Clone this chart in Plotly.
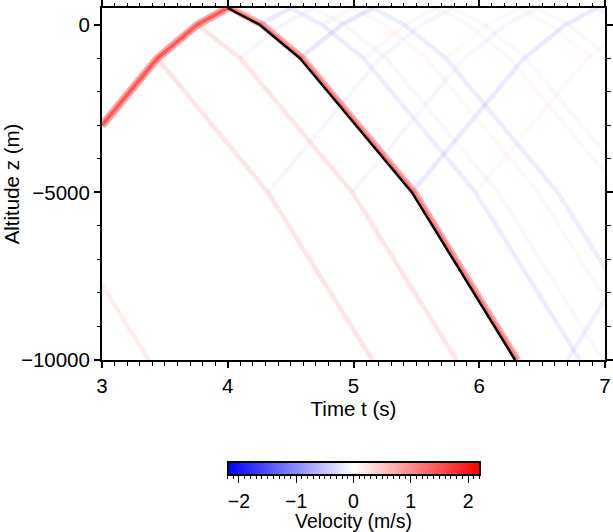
import plotly.graph_objects as go

FONT = "Liberation Sans"

# ---- ray path (black line) ----
ray_t = [4.00, 4.254, 4.575, 5.465, 6.285]
ray_z = [500, 0, -1000, -5000, -10000]

# ---- main pulse, upgoing branch ----
up_t = [3.00, 3.44, 3.758, 4.00]
up_z = [-3000, -1000, 0, 500]

# ---- main pulse band following the ray (slightly behind it) ----
band_t = [4.02, 4.274, 4.595, 5.485, 6.305]
band_z = [500, 0, -1000, -5000, -10000]

# ---- first order reflections (t in s, z in m, amplitude in m/s) ----
A_t, A_z = [3.44, 4.32, 5.15], [-1000, -5000, -10000]
B_t, B_z = [3.758, 4.10, 4.99, 5.82], [0, -1000, -5000, -10000]
C_t, C_z = [2.55, 3.37], [-5000, -10000]
Fu_t, Fu_z = [4.254, 4.50], [0, 500]
Fd_t, Fd_z = [4.50, 4.75, 5.08, 5.97, 6.80], [500, 0, -1000, -5000, -10000]
Eu_t, Eu_z = [4.575, 4.905, 5.155], [-1000, 0, 500]
Ed_t, Ed_z = [5.155, 5.405, 5.735, 6.625, 7.455], [500, 0, -1000, -5000, -10000]
Du_t, Du_z = [5.465, 6.355, 6.685, 6.935], [-5000, -1000, 0, 500]
Dd_t, Dd_z = [6.935, 7.185], [500, 0]
Gu_t, Gu_z = [4.10, 4.43, 4.68], [-1000, 0, 500]
Gd_t, Gd_z = [4.68, 4.93, 5.26, 6.15, 6.98], [500, 0, -1000, -5000, -10000]
Hu_t, Hu_z = [4.32, 5.21, 5.54, 5.79], [-5000, -1000, 0, 500]
Hd_t, Hd_z = [5.79, 6.04, 6.37, 7.26], [500, 0, -1000, -5000]
Iu_t, Iu_z = [4.99, 5.88, 6.21, 6.46], [-5000, -1000, 0, 500]
Id_t, Id_z = [6.46, 6.71, 7.04], [500, 0, -1000]
J_t, J_z = [6.70, 7.00], [-10000, -8200]
# ---- second order reflections ----
R1u_t, R1u_z = [4.75, 5.00], [0, 500]
R1d_t, R1d_z = [5.00, 5.25, 5.58, 6.47, 7.30], [500, 0, -1000, -5000, -10000]
R2u_t, R2u_z = [5.08, 5.41, 5.66], [-1000, 0, 500]
R2d_t, R2d_z = [5.66, 5.91, 6.24, 7.13], [500, 0, -1000, -5000]
R3u_t, R3u_z = [5.97, 6.86, 7.19], [-5000, -1000, 0]
R4u_t, R4u_z = [5.735, 6.065, 6.315], [-1000, 0, 500]
R4d_t, R4d_z = [6.315, 6.565, 6.895], [500, 0, -1000]

fronts = [
    (A_t, A_z, 0.22), (B_t, B_z, 0.22), (C_t, C_z, 0.15),
    (Fu_t, Fu_z, -0.20), (Fd_t, Fd_z, -0.15),
    (Eu_t, Eu_z, -0.20), (Ed_t, Ed_z, -0.15),
    (Du_t, Du_z, -0.17), (Dd_t, Dd_z, -0.12),
    (Gu_t, Gu_z, -0.08), (Gd_t, Gd_z, -0.06),
    (Hu_t, Hu_z, -0.07), (Hd_t, Hd_z, -0.05),
    (Iu_t, Iu_z, -0.07), (Id_t, Id_z, -0.05),
    (J_t, J_z, -0.12),
    (R1u_t, R1u_z, 0.07), (R1d_t, R1d_z, 0.06),
    (R2u_t, R2u_z, 0.07), (R2d_t, R2d_z, 0.06),
    (R3u_t, R3u_z, 0.05),
    (R4u_t, R4u_z, 0.05), (R4d_t, R4d_z, 0.05),
]

# tick labels
y_tickvals = [-10000, -5000, 0]
y_ticktext = ["\u221210000", "\u22125000", "0"]
cb_major = [-2, -1, 0, 1, 2]
cb_minor = [round(-2.2 + 0.1 * i, 1) for i in range(45)]
cb_title = "Velocity (m/s)"

VMAX = 2.2
cscale = [[0, "rgb(0,0,255)"], [0.5, "rgb(255,255,255)"], [1, "rgb(255,0,0)"]]

fig = go.Figure()


def rgba(amp):
    a = min(abs(amp) / VMAX, 1.0)
    return f"rgba(255,0,0,{a:.3f})" if amp > 0 else f"rgba(0,0,255,{a:.3f})"


def add_line(t, z, color, width):
    fig.add_trace(go.Scatter(x=t, y=z, mode="lines",
                             line=dict(color=color, width=width),
                             hoverinfo="skip", showlegend=False))


for t, z, amp in fronts:
    add_line(t, z, rgba(amp), 4.5)

# main pulse
add_line(up_t, up_z, rgba(0.8), 8)
add_line(up_t, up_z, rgba(1.0), 3.5)
add_line(band_t, band_z, rgba(0.7), 7)
add_line(band_t, band_z, rgba(0.6), 3)
add_line(ray_t, ray_z, "black", 2.5)

# colorbar (minor ticks, major ticks, labels overlaid)
CB_FONT = 19.5
cb_base = dict(orientation="h", x=0.5, xanchor="center", y=-0.2898, yanchor="top",
               len=0.5, lenmode="fraction", thickness=13, xpad=0, ypad=0,
               outlinewidth=2, outlinecolor="black", ticks="outside", tickwidth=1,
               tickfont=dict(family=FONT, size=CB_FONT, color="black"))


def add_cbar(**kw):
    fig.add_trace(go.Scatter(x=[None], y=[None], mode="markers", showlegend=False, hoverinfo="skip",
                             marker=dict(color=[0], cmin=-VMAX, cmax=VMAX, colorscale=cscale,
                                         showscale=True, colorbar=dict(**cb_base, **kw))))


add_cbar(tickvals=cb_minor, ticktext=[""] * len(cb_minor), ticklen=3.5, tickcolor="black")
add_cbar(tickvals=cb_major, ticktext=[""] * len(cb_major), ticklen=7, tickcolor="black")
add_cbar(tickvals=cb_major, ticklen=9, tickcolor="rgba(0,0,0,0)")

fig.add_annotation(text=cb_title, xref="paper", yref="paper", x=0.5, y=(360 - 521) / 352,
                   xanchor="center", yanchor="middle", showarrow=False,
                   font=dict(family=FONT, size=CB_FONT, color="black"))

axis_common = dict(showline=True, linewidth=2, linecolor="black", mirror="allticks",
                   ticks="outside", ticklen=6, tickwidth=1.5, tickcolor="black",
                   showgrid=False, zeroline=False, automargin=False,
                   tickfont=dict(family=FONT, size=20.5, color="black"))

fig.update_layout(
    width=613, height=532,
    margin=dict(l=102, r=8, t=8, b=172, autoexpand=False),
    paper_bgcolor="white", plot_bgcolor="white",
    font=dict(family=FONT, size=20.5, color="black"),
    xaxis=dict(**axis_common, range=[3, 7], dtick=1, tick0=3,
               minor=dict(dtick=0.1, ticklen=3.5, tickwidth=1, tickcolor="black", ticks="outside"),
               title=dict(text="Time t (s)", standoff=6, font=dict(family=FONT, size=20.5))),
    yaxis=dict(**axis_common, range=[-10000, 500], tickvals=y_tickvals, ticktext=y_ticktext,
               minor=dict(dtick=1000, tick0=0, ticklen=3.5, tickwidth=1, tickcolor="black", ticks="outside"),
               title=dict(text="Altitude z (m)", standoff=8, font=dict(family=FONT, size=20.5))),
)

fig.write_html("out.html", config={"displayModeBar": False},
               post_script="document.body.style.margin='0';document.body.style.overflow='hidden';")
